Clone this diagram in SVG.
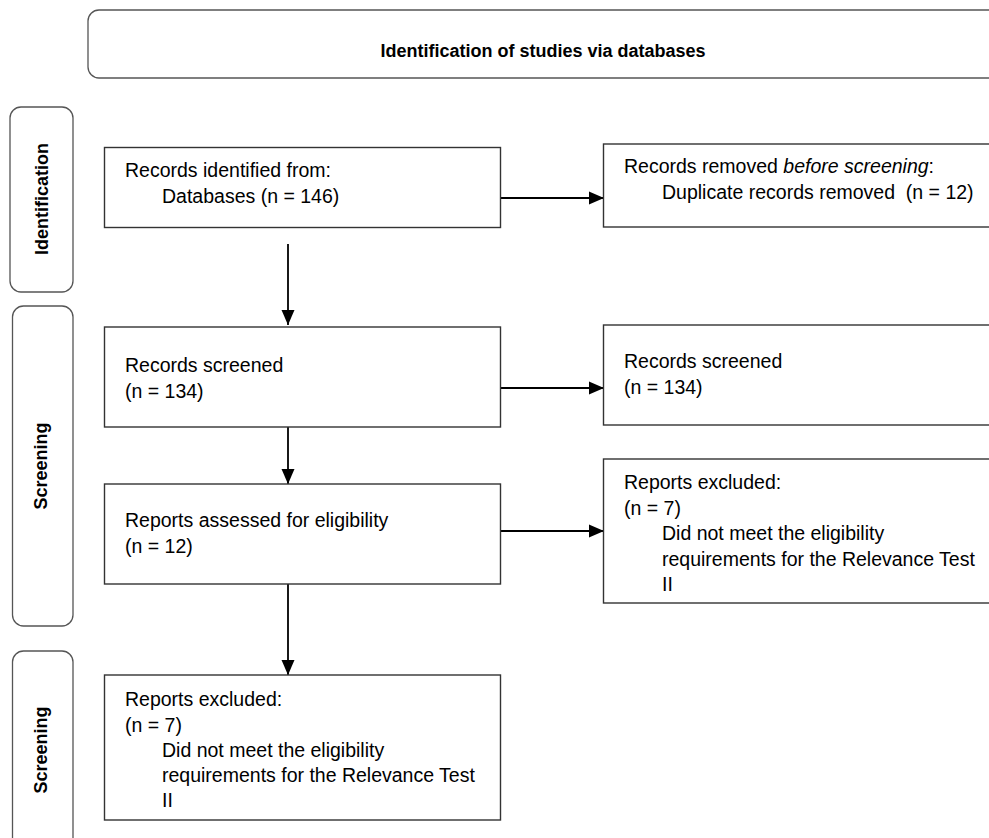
<svg xmlns="http://www.w3.org/2000/svg" width="989" height="838" viewBox="0 0 989 838">
<style>
.box{fill:#fff;stroke:#333;stroke-width:1.4}
.phase{fill:#fff;stroke:#555;stroke-width:1.3}
.t{font-family:"Liberation Sans",Arial,sans-serif;font-size:19.5px;fill:#000;white-space:pre}
.b{font-family:"Liberation Sans",Arial,sans-serif;font-size:18px;font-weight:bold;fill:#000}
.conn{stroke:#000;stroke-width:1.8;fill:none}
</style>
<defs>
<marker id="arr" markerUnits="userSpaceOnUse" markerWidth="16" markerHeight="14" refX="15" refY="7" orient="auto">
<path d="M0,0.5 L15,7 L0,13.5 z" fill="#000"/>
</marker>
</defs>
<rect width="989" height="838" fill="#fff"/>
<g id="header">
<rect class="phase" x="88" y="10" width="920" height="68" rx="11"/>
<text class="b" x="543" y="57" text-anchor="middle">Identification of studies via databases</text>
</g>
<g id="phase-identification">
<rect class="phase" x="10" y="107" width="63" height="185" rx="11"/>
<text class="b" transform="translate(48,199) rotate(-90)" text-anchor="middle">Identification</text>
</g>
<g id="phase-screening-1">
<rect class="phase" x="12.5" y="306" width="60.5" height="320" rx="11"/>
<text class="b" transform="translate(47,466) rotate(-90)" text-anchor="middle">Screening</text>
</g>
<g id="phase-screening-2">
<rect class="phase" x="12.5" y="651" width="60.5" height="200" rx="11"/>
<text class="b" transform="translate(47,750) rotate(-90)" text-anchor="middle">Screening</text>
</g>
<g id="connectors">
<path class="conn" d="M288,244 V325" marker-end="url(#arr)"/>
<path class="conn" d="M288,427 V484" marker-end="url(#arr)"/>
<path class="conn" d="M288,584 V675" marker-end="url(#arr)"/>
<path class="conn" d="M500,198 H604" marker-end="url(#arr)"/>
<path class="conn" d="M500,388 H604" marker-end="url(#arr)"/>
<path class="conn" d="M500,531 H604" marker-end="url(#arr)"/>
</g>
<g id="records-identified">
<rect class="box" x="104.5" y="147.5" width="396" height="80"/>
<text class="t" x="125" y="177">Records identified from:</text>
<text class="t" x="162" y="203">Databases (n = 146)</text>
</g>
<g id="records-removed">
<rect class="box" x="603.5" y="144" width="400" height="83"/>
<text class="t" x="624" y="173">Records removed <tspan font-style="italic">before screening</tspan>:</text>
<text class="t" x="662" y="199">Duplicate records removed  (n = 12)</text>
</g>
<g id="records-screened">
<rect class="box" x="104.5" y="327" width="396" height="100"/>
<text class="t" x="125" y="372">Records screened</text>
<text class="t" x="125" y="398">(n = 134)</text>
</g>
<g id="records-screened-right">
<rect class="box" x="603.5" y="325" width="400" height="100"/>
<text class="t" x="624" y="368">Records screened</text>
<text class="t" x="624" y="394">(n = 134)</text>
</g>
<g id="reports-assessed">
<rect class="box" x="104.5" y="484" width="396" height="100"/>
<text class="t" x="125" y="527">Reports assessed for eligibility</text>
<text class="t" x="125" y="553">(n = 12)</text>
</g>
<g id="reports-excluded-right">
<rect class="box" x="603.5" y="459" width="400" height="144"/>
<text class="t" x="624" y="489">Reports excluded:</text>
<text class="t" x="624" y="515">(n = 7)</text>
<text class="t" x="662" y="540">Did not meet the eligibility</text>
<text class="t" x="662" y="566">requirements for the Relevance Test</text>
<text class="t" x="662" y="591">II</text>
</g>
<g id="reports-excluded">
<rect class="box" x="104.5" y="675" width="396" height="145"/>
<text class="t" x="125" y="706">Reports excluded:</text>
<text class="t" x="125" y="732">(n = 7)</text>
<text class="t" x="162" y="757">Did not meet the eligibility</text>
<text class="t" x="162" y="782">requirements for the Relevance Test</text>
<text class="t" x="162" y="807">II</text>
</g>
</svg>
